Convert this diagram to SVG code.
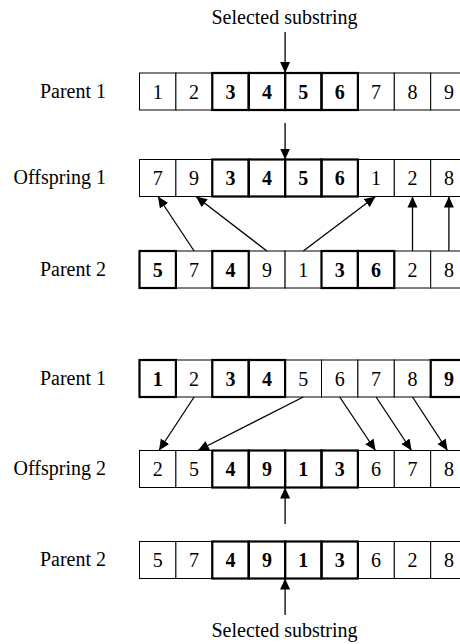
<svg xmlns="http://www.w3.org/2000/svg" width="460" height="644" viewBox="0 0 460 644">
  <style>
    .bg { fill: #ffffff; }
    .cell { fill: #ffffff; stroke: #000000; stroke-width: 1; }
    .bold { fill: none; stroke: #000000; stroke-width: 2.2; }
    .num { font-family: "Liberation Serif", "Times New Roman", serif; font-size: 20px; fill: #000000; text-anchor: middle; }
    .num.b { font-weight: bold; }
    .label { font-family: "Liberation Serif", "Times New Roman", serif; font-size: 20px; fill: #000000; text-anchor: end; }
    .caption { font-family: "Liberation Serif", "Times New Roman", serif; font-size: 20px; fill: #000000; text-anchor: middle; }
    .link { stroke: #000000; stroke-width: 1.3; fill: none; marker-end: url(#head); }
  </style>
  <defs>
    <marker id="head" markerUnits="userSpaceOnUse" markerWidth="11" markerHeight="11" viewBox="0 0 11 10" refX="11" refY="5" orient="auto">
      <path d="M0,0 L11,5 L0,10 Z" fill="#000000"/>
    </marker>
  </defs>
  <rect class="bg" x="0" y="0" width="460" height="644"/>

  <!-- Top caption -->
  <g id="caption-top">
    <text class="caption" x="284.5" y="24">Selected substring</text>
  </g>

  <!-- Parent 1 (first example) -->
  <g id="parent1-a">
    <text class="label" x="106" y="97.5">Parent 1</text>
    <g>
      <rect class="cell" x="139.5" y="73" width="36.4" height="37"/>
      <rect class="cell" x="175.9" y="73" width="36.4" height="37"/>
      <rect class="cell" x="212.3" y="73" width="36.4" height="37"/>
      <rect class="cell" x="248.7" y="73" width="36.4" height="37"/>
      <rect class="cell" x="285.1" y="73" width="36.4" height="37"/>
      <rect class="cell" x="321.5" y="73" width="36.4" height="37"/>
      <rect class="cell" x="357.9" y="73" width="36.4" height="37"/>
      <rect class="cell" x="394.3" y="73" width="36.4" height="37"/>
      <rect class="cell" x="430.7" y="73" width="36.4" height="37"/>
      <rect class="bold" x="212.3" y="73" width="36.4" height="37"/>
      <rect class="bold" x="248.7" y="73" width="36.4" height="37"/>
      <rect class="bold" x="285.1" y="73" width="36.4" height="37"/>
      <rect class="bold" x="321.5" y="73" width="36.4" height="37"/>
    </g>
    <text class="num" x="157.7" y="98.5">1</text>
    <text class="num" x="194.1" y="98.5">2</text>
    <text class="num b" x="230.5" y="98.5">3</text>
    <text class="num b" x="266.9" y="98.5">4</text>
    <text class="num b" x="303.3" y="98.5">5</text>
    <text class="num b" x="339.7" y="98.5">6</text>
    <text class="num" x="376.1" y="98.5">7</text>
    <text class="num" x="412.5" y="98.5">8</text>
    <text class="num" x="448.9" y="98.5">9</text>
  </g>

  <!-- Offspring 1 -->
  <g id="offspring1">
    <text class="label" x="106" y="184">Offspring 1</text>
    <g>
      <rect class="cell" x="139.5" y="159.5" width="36.4" height="37"/>
      <rect class="cell" x="175.9" y="159.5" width="36.4" height="37"/>
      <rect class="cell" x="212.3" y="159.5" width="36.4" height="37"/>
      <rect class="cell" x="248.7" y="159.5" width="36.4" height="37"/>
      <rect class="cell" x="285.1" y="159.5" width="36.4" height="37"/>
      <rect class="cell" x="321.5" y="159.5" width="36.4" height="37"/>
      <rect class="cell" x="357.9" y="159.5" width="36.4" height="37"/>
      <rect class="cell" x="394.3" y="159.5" width="36.4" height="37"/>
      <rect class="cell" x="430.7" y="159.5" width="36.4" height="37"/>
      <rect class="bold" x="212.3" y="159.5" width="36.4" height="37"/>
      <rect class="bold" x="248.7" y="159.5" width="36.4" height="37"/>
      <rect class="bold" x="285.1" y="159.5" width="36.4" height="37"/>
      <rect class="bold" x="321.5" y="159.5" width="36.4" height="37"/>
    </g>
    <text class="num" x="157.7" y="185">7</text>
    <text class="num" x="194.1" y="185">9</text>
    <text class="num b" x="230.5" y="185">3</text>
    <text class="num b" x="266.9" y="185">4</text>
    <text class="num b" x="303.3" y="185">5</text>
    <text class="num b" x="339.7" y="185">6</text>
    <text class="num" x="376.1" y="185">1</text>
    <text class="num" x="412.5" y="185">2</text>
    <text class="num" x="448.9" y="185">8</text>
  </g>

  <!-- Parent 2 (first example) -->
  <g id="parent2-a">
    <text class="label" x="106" y="275.5">Parent 2</text>
    <g>
      <rect class="cell" x="139.5" y="251" width="36.4" height="37"/>
      <rect class="cell" x="175.9" y="251" width="36.4" height="37"/>
      <rect class="cell" x="212.3" y="251" width="36.4" height="37"/>
      <rect class="cell" x="248.7" y="251" width="36.4" height="37"/>
      <rect class="cell" x="285.1" y="251" width="36.4" height="37"/>
      <rect class="cell" x="321.5" y="251" width="36.4" height="37"/>
      <rect class="cell" x="357.9" y="251" width="36.4" height="37"/>
      <rect class="cell" x="394.3" y="251" width="36.4" height="37"/>
      <rect class="cell" x="430.7" y="251" width="36.4" height="37"/>
      <rect class="bold" x="139.5" y="251" width="36.4" height="37"/>
      <rect class="bold" x="212.3" y="251" width="36.4" height="37"/>
      <rect class="bold" x="321.5" y="251" width="36.4" height="37"/>
      <rect class="bold" x="357.9" y="251" width="36.4" height="37"/>
    </g>
    <text class="num b" x="157.7" y="276.5">5</text>
    <text class="num" x="194.1" y="276.5">7</text>
    <text class="num b" x="230.5" y="276.5">4</text>
    <text class="num" x="266.9" y="276.5">9</text>
    <text class="num" x="303.3" y="276.5">1</text>
    <text class="num b" x="339.7" y="276.5">3</text>
    <text class="num b" x="376.1" y="276.5">6</text>
    <text class="num" x="412.5" y="276.5">2</text>
    <text class="num" x="448.9" y="276.5">8</text>
  </g>

  <!-- Parent 1 (second example) -->
  <g id="parent1-b">
    <text class="label" x="106" y="384.5">Parent 1</text>
    <g>
      <rect class="cell" x="139.5" y="360" width="36.4" height="37"/>
      <rect class="cell" x="175.9" y="360" width="36.4" height="37"/>
      <rect class="cell" x="212.3" y="360" width="36.4" height="37"/>
      <rect class="cell" x="248.7" y="360" width="36.4" height="37"/>
      <rect class="cell" x="285.1" y="360" width="36.4" height="37"/>
      <rect class="cell" x="321.5" y="360" width="36.4" height="37"/>
      <rect class="cell" x="357.9" y="360" width="36.4" height="37"/>
      <rect class="cell" x="394.3" y="360" width="36.4" height="37"/>
      <rect class="cell" x="430.7" y="360" width="36.4" height="37"/>
      <rect class="bold" x="139.5" y="360" width="36.4" height="37"/>
      <rect class="bold" x="212.3" y="360" width="36.4" height="37"/>
      <rect class="bold" x="248.7" y="360" width="36.4" height="37"/>
      <rect class="bold" x="430.7" y="360" width="36.4" height="37"/>
    </g>
    <text class="num b" x="157.7" y="385.5">1</text>
    <text class="num" x="194.1" y="385.5">2</text>
    <text class="num b" x="230.5" y="385.5">3</text>
    <text class="num b" x="266.9" y="385.5">4</text>
    <text class="num" x="303.3" y="385.5">5</text>
    <text class="num" x="339.7" y="385.5">6</text>
    <text class="num" x="376.1" y="385.5">7</text>
    <text class="num" x="412.5" y="385.5">8</text>
    <text class="num b" x="448.9" y="385.5">9</text>
  </g>

  <!-- Offspring 2 -->
  <g id="offspring2">
    <text class="label" x="106" y="475">Offspring 2</text>
    <g>
      <rect class="cell" x="139.5" y="450.5" width="36.4" height="37"/>
      <rect class="cell" x="175.9" y="450.5" width="36.4" height="37"/>
      <rect class="cell" x="212.3" y="450.5" width="36.4" height="37"/>
      <rect class="cell" x="248.7" y="450.5" width="36.4" height="37"/>
      <rect class="cell" x="285.1" y="450.5" width="36.4" height="37"/>
      <rect class="cell" x="321.5" y="450.5" width="36.4" height="37"/>
      <rect class="cell" x="357.9" y="450.5" width="36.4" height="37"/>
      <rect class="cell" x="394.3" y="450.5" width="36.4" height="37"/>
      <rect class="cell" x="430.7" y="450.5" width="36.4" height="37"/>
      <rect class="bold" x="212.3" y="450.5" width="36.4" height="37"/>
      <rect class="bold" x="248.7" y="450.5" width="36.4" height="37"/>
      <rect class="bold" x="285.1" y="450.5" width="36.4" height="37"/>
      <rect class="bold" x="321.5" y="450.5" width="36.4" height="37"/>
    </g>
    <text class="num" x="157.7" y="476">2</text>
    <text class="num" x="194.1" y="476">5</text>
    <text class="num b" x="230.5" y="476">4</text>
    <text class="num b" x="266.9" y="476">9</text>
    <text class="num b" x="303.3" y="476">1</text>
    <text class="num b" x="339.7" y="476">3</text>
    <text class="num" x="376.1" y="476">6</text>
    <text class="num" x="412.5" y="476">7</text>
    <text class="num" x="448.9" y="476">8</text>
  </g>

  <!-- Parent 2 (second example) -->
  <g id="parent2-b">
    <text class="label" x="106" y="566">Parent 2</text>
    <g>
      <rect class="cell" x="139.5" y="541.5" width="36.4" height="37"/>
      <rect class="cell" x="175.9" y="541.5" width="36.4" height="37"/>
      <rect class="cell" x="212.3" y="541.5" width="36.4" height="37"/>
      <rect class="cell" x="248.7" y="541.5" width="36.4" height="37"/>
      <rect class="cell" x="285.1" y="541.5" width="36.4" height="37"/>
      <rect class="cell" x="321.5" y="541.5" width="36.4" height="37"/>
      <rect class="cell" x="357.9" y="541.5" width="36.4" height="37"/>
      <rect class="cell" x="394.3" y="541.5" width="36.4" height="37"/>
      <rect class="cell" x="430.7" y="541.5" width="36.4" height="37"/>
      <rect class="bold" x="212.3" y="541.5" width="36.4" height="37"/>
      <rect class="bold" x="248.7" y="541.5" width="36.4" height="37"/>
      <rect class="bold" x="285.1" y="541.5" width="36.4" height="37"/>
      <rect class="bold" x="321.5" y="541.5" width="36.4" height="37"/>
    </g>
    <text class="num" x="157.7" y="567">5</text>
    <text class="num" x="194.1" y="567">7</text>
    <text class="num b" x="230.5" y="567">4</text>
    <text class="num b" x="266.9" y="567">9</text>
    <text class="num b" x="303.3" y="567">1</text>
    <text class="num b" x="339.7" y="567">3</text>
    <text class="num" x="376.1" y="567">6</text>
    <text class="num" x="412.5" y="567">2</text>
    <text class="num" x="448.9" y="567">8</text>
  </g>

  <!-- Bottom caption -->
  <g id="caption-bottom">
    <text class="caption" x="284.5" y="637">Selected substring</text>
  </g>

  <!-- Connectors -->
  <g id="connectors">
    <line class="link" x1="285.1" y1="32" x2="285.1" y2="73"/>
    <line class="link" x1="285.1" y1="123" x2="285.1" y2="159.5"/>
    <line class="link" x1="194.1" y1="251" x2="158" y2="196.5"/>
    <line class="link" x1="266.9" y1="251" x2="196" y2="196.5"/>
    <line class="link" x1="303.3" y1="251" x2="375.5" y2="196.5"/>
    <line class="link" x1="412.5" y1="251" x2="412.5" y2="196.5"/>
    <line class="link" x1="448.9" y1="251" x2="448.9" y2="196.5"/>
    <line class="link" x1="194.1" y1="397" x2="159" y2="450.5"/>
    <line class="link" x1="303.3" y1="397" x2="198" y2="450.5"/>
    <line class="link" x1="339.7" y1="397" x2="375.5" y2="450.5"/>
    <line class="link" x1="376.1" y1="397" x2="411.5" y2="450.5"/>
    <line class="link" x1="412.5" y1="397" x2="447.5" y2="450.5"/>
    <line class="link" x1="285.1" y1="524" x2="285.1" y2="487.5"/>
    <line class="link" x1="285.1" y1="615" x2="285.1" y2="578.5"/>
  </g>
</svg>
